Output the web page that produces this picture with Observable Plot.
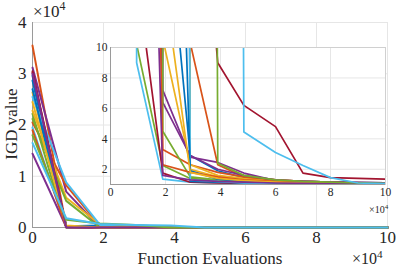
<!DOCTYPE html>
<html><head><meta charset="utf-8">
<script src="https://cdn.jsdelivr.net/npm/d3@7"></script>
<script src="https://cdn.jsdelivr.net/npm/@observablehq/plot@0.6"></script>
<style>
body{margin:0;background:#fff;}
#wrap{position:relative;width:399px;height:270px;font-family:"Liberation Serif","Times New Roman",serif;color:#262626;overflow:hidden;}
#wrap svg{position:absolute;}
#wrap svg, #wrap svg text{font-family:"Liberation Serif","Times New Roman",serif !important;}
.lbl{position:absolute;white-space:nowrap;line-height:1;}
.lbl sup{font-size:0.7em;vertical-align:0.55em;line-height:0;}
</style></head><body><div id="wrap"></div>
<script>
// Function evaluations (x 10^4)
const evals = [0, 0.95, 1.9, 2.9, 3.9, 4.85, 6, 7, 8, 9, 10];
const xTicks = [0, 2, 4, 6, 8, 10];
const mainYTicks = [0, 1, 2, 3, 4];
const insetYTicks = [2, 4, 6, 8, 10];
const colorOrder = ["#0072BD", "#D95319", "#EDB120", "#7E2F8E", "#77AC30", "#4DBEEE", "#A2142F"];
// IGD value of each run at each evaluation count
const igd = [
  [29600, 300, 22, 2.9, 1.9, 1.45, 1.25, 1.2, 1.15, 1.12, 1.1],
  [35500, 150, 3.3, 2.3, 1.8, 1.5, 1.3, 1.2, 1.15, 1.12, 1.1],
  [26400, 200, 10.6, 2.3, 1.6, 1.4, 1.25, 1.18, 1.12, 1.1, 1.08],
  [31200, 7000, 7.2, 2.8, 2.45, 1.75, 1.25, 1.2, 1.15, 1.12, 1.1],
  [22200, 10.2, 2.25, 1.4, 1.25, 1.15, 1.1, 1.08, 1.06, 1.05, 1.05],
  [19500, 9.0, 1.35, 1.15, 1.1, 1.07, 1.05, 1.05, 1.04, 1.03, 1.03],
  [30200, 14.8, 1.75, 1.15, 1.1, 1.08, 1.06, 1.05, 1.05, 1.04, 1.04],
  [28700, 250, 400, 1.2, 1.15, 1.1, 1.08, 1.06, 1.05, 1.05, 1.05],
  [20500, 8200, 300, 10.3, 2.3, 1.5, 1.3, 1.2, 1.15, 1.1, 1.1],
  [22800, 5800, 600, 2.0, 1.5, 1.3, 1.2, 1.15, 1.1, 1.08, 1.06],
  [14400, 90, 6.4, 2.9, 2.0, 1.6, 1.3, 1.2, 1.15, 1.12, 1.1],
  [21200, 5200, 4.5, 1.5, 1.3, 1.2, 1.15, 1.1, 1.08, 1.06, 1.05],
  [25500, 8800, 500, 1.3, 1.2, 1.1, 1.08, 1.06, 1.05, 1.04, 1.04],
  [30500, 120, 40, 30, 9.0, 6.2, 4.8, 1.75, 1.45, 1.4, 1.35],
  [27000, 180, 60, 1.9, 1.35, 1.2, 1.12, 1.1, 1.08, 1.06, 1.05],
  [19000, 100, 2.3, 1.8, 1.5, 1.3, 1.2, 1.15, 1.1, 1.08, 1.05],
  [24500, 400, 15, 1.8, 1.4, 1.25, 1.15, 1.1, 1.08, 1.06, 1.05],
  [30000, 60, 1.6, 1.3, 1.2, 1.15, 1.1, 1.08, 1.06, 1.05, 1.05],
  [18000, 1500, 800, 500, 2.4, 1.6, 1.3, 1.2, 1.15, 1.1, 1.08],
  [16500, 1800, 700, 500, 400, 4.45, 3.1, 2.25, 1.45, 1.1, 1.05]
];

const rows = igd.flatMap((vals, s) => vals.map((v, k) => ({s, x: evals[k], v, c: colorOrder[s % 7]})));
const font = '"Liberation Serif","Times New Roman",serif';
const wrap = document.getElementById("wrap");
const fmt = d => String(d);

const main = Plot.plot({
  width: 399, height: 270,
  marginLeft: 32, marginRight: 12, marginTop: 22, marginBottom: 43,
  style: {fontFamily: font, fontSize: "17px", color: "#262626", background: "transparent"},
  x: {domain: [0, 10], ticks: xTicks, tickFormat: fmt, tickSize: 0, tickPadding: 3, label: null},
  y: {domain: [0, 4], ticks: mainYTicks, tickFormat: fmt, tickSize: 0, tickPadding: 6, label: null},
  color: {type: "identity"},
  marks: [
    Plot.ruleX(xTicks, {stroke: "#e6e6e6"}),
    Plot.ruleY(mainYTicks, {stroke: "#e6e6e6"}),
    Plot.ruleX([0], {stroke: "#9a9a9a"}),
    Plot.ruleY([0], {stroke: "#9a9a9a"}),
    Plot.line(rows, {x: "x", y: d => d.v / 1e4, z: "s", stroke: "c", strokeWidth: 2})
  ]
});
main.style.left = "0px"; main.style.top = "0px";
wrap.appendChild(main);

const iL = 85, iT = 40;
const inset = Plot.plot({
  width: 310, height: 180,
  marginLeft: 25, marginRight: 10, marginTop: 7, marginBottom: 36,
  style: {fontFamily: font, fontSize: "11.5px", color: "#262626", background: "transparent"},
  x: {domain: [0, 10], ticks: xTicks, tickFormat: fmt, tickSize: 0, tickPadding: 3, label: null},
  y: {domain: [1, 10], ticks: insetYTicks, tickFormat: fmt, tickSize: 0, tickPadding: 3, label: null},
  color: {type: "identity"},
  marks: [
    Plot.frame({fill: "white", stroke: "none"}),
    Plot.ruleX(xTicks, {stroke: "#e6e6e6"}),
    Plot.ruleY(insetYTicks, {stroke: "#e6e6e6"}),
    Plot.line(rows, {x: "x", y: "v", z: "s", stroke: "c", strokeWidth: 1.7, clip: true}),
    Plot.frame({stroke: "#d0d0d0"}),
    Plot.ruleX([0], {stroke: "#9a9a9a"}),
    Plot.ruleY([1], {stroke: "#9a9a9a"})
  ]
});
inset.style.left = iL + "px"; inset.style.top = iT + "px";
wrap.appendChild(inset);

for (const svg of [main, inset]) {
  d3.select(svg).attr("font-family", font).selectAll("g, text").attr("font-family", font).style("font-family", font);
}

function label(html, css) {
  const d = document.createElement("div");
  d.className = "lbl";
  d.innerHTML = html;
  Object.assign(d.style, css);
  wrap.appendChild(d);
  return d;
}
label("×10<sup>4</sup>", {left: "33px", top: "3px", fontSize: "17px"});
label("×10<sup>4</sup>", {left: "352px", top: "251px", fontSize: "16px"});
label("×10<sup>4</sup>", {left: "369px", top: "205px", fontSize: "10px"});
label("Function Evaluations", {left: "210px", top: "250px", fontSize: "17px", transform: "translateX(-50%)"});
label("IGD value", {left: "11px", top: "124px", fontSize: "17px", transform: "translate(-50%,-50%) rotate(-90deg)"});
</script></body></html>
